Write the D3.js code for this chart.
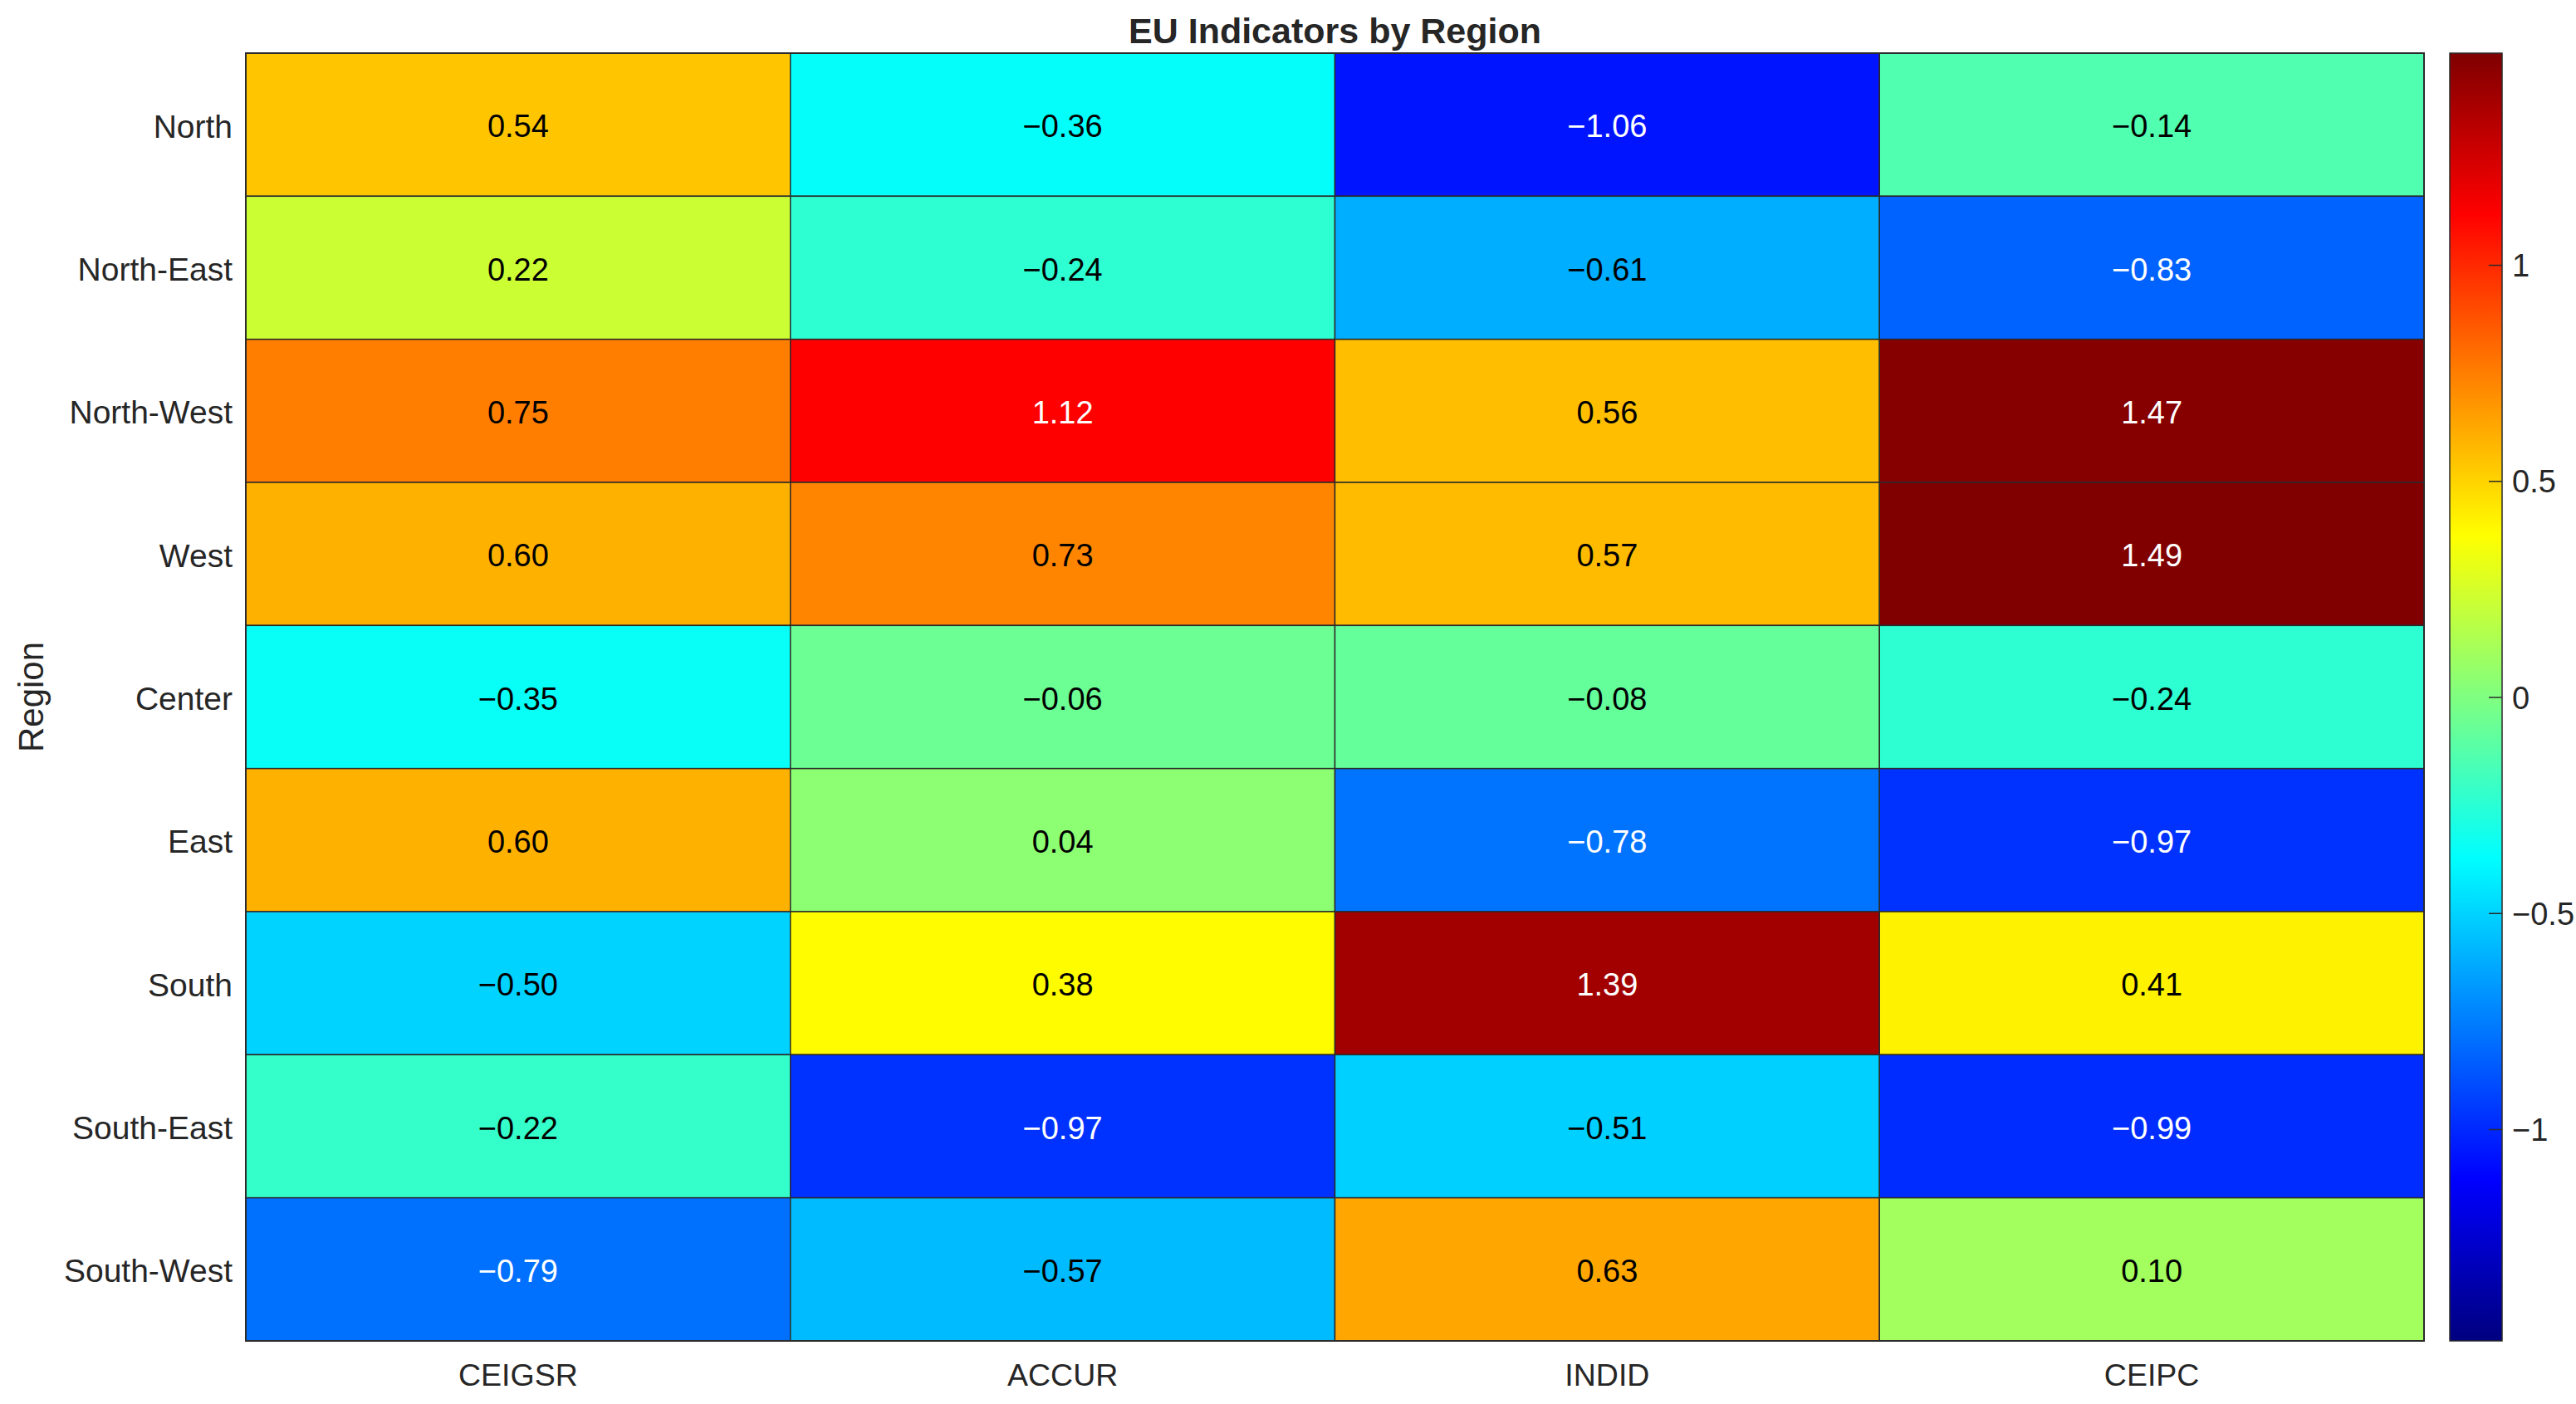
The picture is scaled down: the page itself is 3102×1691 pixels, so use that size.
<!DOCTYPE html>
<html>
<head>
<meta charset="utf-8">
<script src="https://cdn.jsdelivr.net/npm/d3@7"></script>
<style>
  html, body { margin: 0; padding: 0; background: #fff; }
  svg { display: block; font-family: "Liberation Sans", Arial, Helvetica, sans-serif; }
</style>
</head>
<body>
<svg id="chart" width="3102" height="1691"></svg>
<script>
const regions = ["North", "North-East", "North-West", "West", "Center", "East", "South", "South-East", "South-West"];
const indicators = ["CEIGSR", "ACCUR", "INDID", "CEIPC"];
const CEIGSR = [0.54, 0.22, 0.75, 0.60, -0.35, 0.60, -0.50, -0.22, -0.79];
const ACCUR  = [-0.36, -0.24, 1.12, 0.73, -0.06, 0.04, 0.38, -0.97, -0.57];
const INDID  = [-1.06, -0.61, 0.56, 0.57, -0.08, -0.78, 1.39, -0.51, 0.63];
const CEIPC  = [-0.14, -0.83, 1.47, 1.49, -0.24, -0.97, 0.41, -0.99, 0.10];
const colorTicks = [-1, -0.5, 0, 0.5, 1];
const title = "EU Indicators by Region";
const yTitle = "Region";

const series = { CEIGSR, ACCUR, INDID, CEIPC };
const cells = [];
regions.forEach((r, i) => indicators.forEach(c => cells.push({ region: r, ind: c, v: series[c][i] })));

const svg = d3.select("#chart");
const M = { left: 296, right: 2919, top: 64, bottom: 1615 };

function jet(t) {
  const cl = x => Math.max(0, Math.min(1, x));
  const r = cl(1.5 - Math.abs(4 * t - 3));
  const g = cl(1.5 - Math.abs(4 * t - 2));
  const b = cl(1.5 - Math.abs(4 * t - 1));
  return d3.rgb(Math.round(r * 255), Math.round(g * 255), Math.round(b * 255));
}
const vmax = d3.max(cells, d => Math.abs(d.v));
const color = d3.scaleSequential(t => jet(t).formatHex()).domain([-vmax, vmax]);

const x = d3.scaleBand().domain(indicators).range([M.left, M.right]).padding(0);
const y = d3.scaleBand().domain(regions).range([M.top, M.bottom]).padding(0);

const fmt = v => (v < 0 ? "\u2212" : "") + Math.abs(v).toFixed(2);
function textColor(v) {
  const c = d3.rgb(color(v));
  const lin = u => { u /= 255; return u <= 0.03928 ? u / 12.92 : Math.pow((u + 0.055) / 1.055, 2.4); };
  const L = 0.2126 * lin(c.r) + 0.7152 * lin(c.g) + 0.0722 * lin(c.b);
  return L < 0.3 ? "#ffffff" : "#000000";
}

// cells
svg.append("g").selectAll("rect").data(cells).join("rect")
  .attr("x", d => x(d.ind)).attr("y", d => y(d.region))
  .attr("width", x.bandwidth()).attr("height", y.bandwidth())
  .attr("fill", d => color(d.v))
  .attr("stroke", "#2b2b2b").attr("stroke-width", 1.5);

// value labels
svg.append("g").selectAll("text").data(cells).join("text")
  .attr("x", d => x(d.ind) + x.bandwidth() / 2)
  .attr("y", d => y(d.region) + y.bandwidth() / 2)
  .attr("dy", "0.4em")
  .attr("text-anchor", "middle")
  .attr("font-size", 38)
  .attr("fill", d => textColor(d.v))
  .text(d => fmt(d.v));

// outer border
svg.append("rect").attr("x", M.left).attr("y", M.top)
  .attr("width", M.right - M.left).attr("height", M.bottom - M.top)
  .attr("fill", "none").attr("stroke", "#2b2b2b").attr("stroke-width", 2);

// row labels
const yAxis = d3.axisLeft(y).tickSize(0).tickPadding(16);
const gy = svg.append("g").attr("transform", `translate(${M.left},0)`).call(yAxis);
gy.select(".domain").remove();
gy.selectAll("text").attr("font-size", 39).attr("fill", "#262626").attr("font-family", null).attr("dy", "0.4em");

// column labels
const xAxis = d3.axisBottom(x).tickSize(0).tickPadding(27);
const gx = svg.append("g").attr("transform", `translate(0,${M.bottom})`).call(xAxis);
gx.select(".domain").remove();
gx.selectAll("text").attr("font-size", 37.5).attr("fill", "#262626").attr("font-family", null);

// y title
svg.append("text")
  .attr("transform", `translate(52,${(M.top + M.bottom) / 2}) rotate(-90)`)
  .attr("text-anchor", "middle")
  .attr("font-size", 42).attr("fill", "#262626")
  .text(yTitle);

// title
svg.append("text")
  .attr("x", (M.left + M.right) / 2).attr("y", 52)
  .attr("text-anchor", "middle")
  .attr("font-size", 43).attr("font-weight", "bold").attr("fill", "#262626")
  .text(title);

// colorbar
const CB = { x: 2950, w: 63, top: 64, bottom: 1615 };
const defs = svg.append("defs");
const grad = defs.append("linearGradient").attr("id", "cbgrad")
  .attr("x1", 0).attr("y1", 1).attr("x2", 0).attr("y2", 0);
d3.range(0, 257).forEach(i => {
  const t = i / 256;
  grad.append("stop").attr("offset", t).attr("stop-color", jet(t).formatHex());
});
svg.append("rect").attr("x", CB.x).attr("y", CB.top)
  .attr("width", CB.w).attr("height", CB.bottom - CB.top)
  .attr("fill", "url(#cbgrad)")
  .attr("stroke", "#2b2b2b").attr("stroke-width", 1.5);

const cy = d3.scaleLinear().domain([-vmax, vmax]).range([CB.bottom, CB.top]);
const cAxis = d3.axisRight(cy).tickValues(colorTicks).tickSize(0).tickPadding(12)
  .tickFormat(v => (v < 0 ? "\u2212" : "") + Math.abs(v));
const gc = svg.append("g").attr("transform", `translate(${CB.x + CB.w},0)`).call(cAxis);
gc.select(".domain").remove();
gc.selectAll("text").attr("font-size", 38).attr("fill", "#262626").attr("font-family", null).attr("dy", "0.36em");
gc.selectAll(".tick").append("line")
  .attr("x1", -16).attr("x2", 0).attr("y1", 0).attr("y2", 0)
  .attr("stroke", "#2b2b2b").attr("stroke-width", 1.5);
</script>
</body>
</html>
